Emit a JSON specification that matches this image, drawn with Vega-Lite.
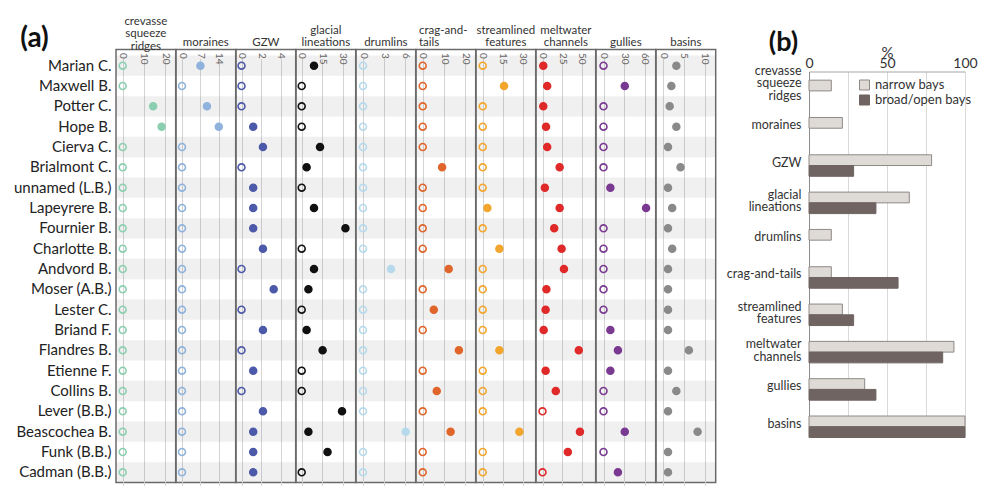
{
  "$schema": "https://vega.github.io/schema/vega-lite/v6.json",
  "padding": {"left": 12, "top": 14.5, "right": 6, "bottom": 2},
  "spacing": 9,
  "config": {
    "font": "Lato",
    "view": {"stroke": "#6b6b6b", "strokeWidth": 1.5},
    "title": {"fontSize": 11.5, "fontWeight": "normal", "color": "#333", "lineHeight": 12.5, "offset": 1, "anchor": "middle", "baseline": "bottom", "font": "Lato"},
    "axisTop": {"offset": -3, "ticks": false, "tickSize": 0, "domain": false, "labelAngle": 90, "labelAlign": "left", "labelBaseline": "middle", "labelPadding": 0, "labelFontSize": 10, "labelColor": "#666", "labelFlush": false, "labelOverlap": false, "grid": true, "gridColor": "#d4d4d4"}
  },
  "resolve": {"scale": {"fill": "independent", "stroke": "independent"}, "legend": {"fill": "independent", "stroke": "independent"}},
  "hconcat": [
    {
      "data": {"values": [
        {"bay":"Marian C.","crevasse_squeeze_ridges":0,"moraines":7,"GZW":0,"glacial_lineations":9,"drumlins":0,"crag_and_tails":0,"streamlined_features":0,"meltwater_channels":1,"gullies":0,"basins":3.2},
        {"bay":"Maxwell B.","crevasse_squeeze_ridges":0,"moraines":0,"GZW":0,"glacial_lineations":0,"drumlins":0,"crag_and_tails":0,"streamlined_features":16,"meltwater_channels":6,"gullies":31,"basins":2},
        {"bay":"Potter C.","crevasse_squeeze_ridges":14.4,"moraines":9.5,"GZW":0,"glacial_lineations":0,"drumlins":0,"crag_and_tails":0,"streamlined_features":0,"meltwater_channels":1,"gullies":0,"basins":1.6},
        {"bay":"Hope B.","crevasse_squeeze_ridges":18.4,"moraines":14,"GZW":1.2,"glacial_lineations":0,"drumlins":0,"crag_and_tails":0,"streamlined_features":0,"meltwater_channels":4.5,"gullies":0,"basins":3.2},
        {"bay":"Cierva C.","crevasse_squeeze_ridges":0,"moraines":0,"GZW":2.2,"glacial_lineations":13.4,"drumlins":0,"crag_and_tails":0,"streamlined_features":0,"meltwater_channels":6,"gullies":0,"basins":1.2},
        {"bay":"Brialmont C.","crevasse_squeeze_ridges":0,"moraines":0,"GZW":0,"glacial_lineations":3.6,"drumlins":0,"crag_and_tails":9.1,"streamlined_features":0,"meltwater_channels":22,"gullies":0,"basins":4.2},
        {"bay":"unnamed (L.B.)","crevasse_squeeze_ridges":0,"moraines":0,"GZW":1.2,"glacial_lineations":0,"drumlins":0,"crag_and_tails":0,"streamlined_features":0,"meltwater_channels":3,"gullies":10,"basins":1.2},
        {"bay":"Lapeyrere B.","crevasse_squeeze_ridges":0,"moraines":0,"GZW":1.2,"glacial_lineations":9,"drumlins":0,"crag_and_tails":0,"streamlined_features":3.5,"meltwater_channels":22,"gullies":62,"basins":2.2},
        {"bay":"Fournier B.","crevasse_squeeze_ridges":0,"moraines":0,"GZW":1.2,"glacial_lineations":32,"drumlins":0,"crag_and_tails":0,"streamlined_features":0,"meltwater_channels":15,"gullies":0,"basins":1.2},
        {"bay":"Charlotte B.","crevasse_squeeze_ridges":0,"moraines":0,"GZW":2.2,"glacial_lineations":0,"drumlins":0,"crag_and_tails":0,"streamlined_features":12.5,"meltwater_channels":24.5,"gullies":0,"basins":2.2},
        {"bay":"Andvord B.","crevasse_squeeze_ridges":0,"moraines":0,"GZW":0,"glacial_lineations":9,"drumlins":4,"crag_and_tails":12.2,"streamlined_features":0,"meltwater_channels":27.5,"gullies":0,"basins":1.2},
        {"bay":"Moser (A.B.)","crevasse_squeeze_ridges":0,"moraines":0,"GZW":3.3,"glacial_lineations":4.9,"drumlins":0,"crag_and_tails":0,"streamlined_features":0,"meltwater_channels":5,"gullies":0,"basins":1.2},
        {"bay":"Lester C.","crevasse_squeeze_ridges":0,"moraines":0,"GZW":0,"glacial_lineations":0,"drumlins":0,"crag_and_tails":5.2,"streamlined_features":0,"meltwater_channels":4,"gullies":0,"basins":1.2},
        {"bay":"Briand F.","crevasse_squeeze_ridges":0,"moraines":0,"GZW":2.2,"glacial_lineations":3.6,"drumlins":0,"crag_and_tails":0,"streamlined_features":0,"meltwater_channels":1.5,"gullies":10,"basins":1.2},
        {"bay":"Flandres B.","crevasse_squeeze_ridges":0,"moraines":0,"GZW":0,"glacial_lineations":15.3,"drumlins":0,"crag_and_tails":17,"streamlined_features":12.5,"meltwater_channels":46.5,"gullies":21,"basins":6.2},
        {"bay":"Etienne F.","crevasse_squeeze_ridges":0,"moraines":0,"GZW":1.2,"glacial_lineations":0,"drumlins":0,"crag_and_tails":0,"streamlined_features":0,"meltwater_channels":4,"gullies":10,"basins":1.2},
        {"bay":"Collins B.","crevasse_squeeze_ridges":0,"moraines":0,"GZW":0,"glacial_lineations":0,"drumlins":0,"crag_and_tails":6.6,"streamlined_features":0,"meltwater_channels":17,"gullies":0,"basins":3.2},
        {"bay":"Lever (B.B.)","crevasse_squeeze_ridges":0,"moraines":0,"GZW":2.2,"glacial_lineations":29.5,"drumlins":0,"crag_and_tails":0,"streamlined_features":0,"meltwater_channels":0,"gullies":0,"basins":1.2},
        {"bay":"Beascochea B.","crevasse_squeeze_ridges":0,"moraines":0,"GZW":1.2,"glacial_lineations":4.9,"drumlins":6.1,"crag_and_tails":13.1,"streamlined_features":27.5,"meltwater_channels":48,"gullies":31,"basins":8.3},
        {"bay":"Funk (B.B.)","crevasse_squeeze_ridges":0,"moraines":0,"GZW":1.2,"glacial_lineations":18.9,"drumlins":0,"crag_and_tails":0,"streamlined_features":0,"meltwater_channels":32.5,"gullies":0,"basins":1.2},
        {"bay":"Cadman (B.B.)","crevasse_squeeze_ridges":0,"moraines":0,"GZW":1.2,"glacial_lineations":0,"drumlins":0,"crag_and_tails":0,"streamlined_features":0,"meltwater_channels":0,"gullies":21,"basins":1.2}
      ]},
      "transform": [{"window": [{"op": "row_number", "as": "rn"}]}],
      "bounds": "flush",
      "spacing": 0,
      "resolve": {"scale": {"x": "independent", "y": "independent"}},
      "hconcat": [
        {
          "width": 59.7, "height": 433,
          "title": {"text": ["crevasse", "squeeze", "ridges"], "offset": -28},
          "encoding": {"y": {"field": "bay", "type": "nominal", "sort": null, "scale": {"domain": ["Marian C.","Maxwell B.","Potter C.","Hope B.","Cierva C.","Brialmont C.","unnamed (L.B.)","Lapeyrere B.","Fournier B.","Charlotte B.","Andvord B.","Moser (A.B.)","Lester C.","Briand F.","Flandres B.","Etienne F.","Collins B.","Lever (B.B.)","Beascochea B.","Funk (B.B.)","Cadman (B.B.)"], "range": [6, 433], "paddingInner": 0, "paddingOuter": 0},
            "axis": {"title": "(a)", "titleAngle": 0, "titleX": -82, "titleY": -11.5, "titleFontSize": 28, "titleFontWeight": "bold", "titleAlign": "center", "titleBaseline": "middle", "titleColor": "#111", "labelFontSize": 15, "labelPadding": 5, "labelColor": "#222", "domain": false, "ticks": false, "labelLimit": 0}}},
          "layer": [
            {"mark": {"type": "rect", "x": 0, "x2": "width", "fill": "#7a6a6a"}, "encoding": {"opacity": {"condition": {"test": "datum.rn % 2 == 1", "value": 0.1}, "value": 0}}},
            {"mark": {"type": "point", "shape": "circle", "size": 48, "strokeWidth": 1.6, "stroke": "#8ccfb0", "opacity": 1},
             "encoding": {"x": {"field": "crevasse_squeeze_ridges", "type": "quantitative", "title": null, "scale": {"domain": [0, 20], "range": [6.7, 49], "nice": false, "zero": false}, "axis": {"orient": "top", "values": [0, 10, 20]}},
               "fill": {"condition": {"test": "datum.crevasse_squeeze_ridges > 0", "value": "#8ccfb0"}, "value": "transparent"}}}
          ]
        },
        {
          "width": 59.7, "height": 433,
          "title": {"text": "moraines"},
          "encoding": {"y": {"field": "bay", "type": "nominal", "sort": null, "scale": {"domain": ["Marian C.","Maxwell B.","Potter C.","Hope B.","Cierva C.","Brialmont C.","unnamed (L.B.)","Lapeyrere B.","Fournier B.","Charlotte B.","Andvord B.","Moser (A.B.)","Lester C.","Briand F.","Flandres B.","Etienne F.","Collins B.","Lever (B.B.)","Beascochea B.","Funk (B.B.)","Cadman (B.B.)"], "range": [6, 433], "paddingInner": 0, "paddingOuter": 0}, "axis": null}},
          "layer": [
            {"mark": {"type": "rect", "x": 0, "x2": "width", "fill": "#7a6a6a"}, "encoding": {"opacity": {"condition": {"test": "datum.rn % 2 == 1", "value": 0.1}, "value": 0}}},
            {"mark": {"type": "point", "shape": "circle", "size": 48, "strokeWidth": 1.6, "stroke": "#8fb3dc", "opacity": 1},
             "encoding": {"x": {"field": "moraines", "type": "quantitative", "title": null, "scale": {"domain": [0, 14], "range": [6, 42.8], "nice": false, "zero": false}, "axis": {"orient": "top", "values": [0, 7, 14]}},
               "fill": {"condition": {"test": "datum.moraines > 0", "value": "#8fb3dc"}, "value": "transparent"}}}
          ]
        },
        {
          "width": 59.7, "height": 433,
          "title": {"text": "GZW"},
          "encoding": {"y": {"field": "bay", "type": "nominal", "sort": null, "scale": {"domain": ["Marian C.","Maxwell B.","Potter C.","Hope B.","Cierva C.","Brialmont C.","unnamed (L.B.)","Lapeyrere B.","Fournier B.","Charlotte B.","Andvord B.","Moser (A.B.)","Lester C.","Briand F.","Flandres B.","Etienne F.","Collins B.","Lever (B.B.)","Beascochea B.","Funk (B.B.)","Cadman (B.B.)"], "range": [6, 433], "paddingInner": 0, "paddingOuter": 0}, "axis": null}},
          "layer": [
            {"mark": {"type": "rect", "x": 0, "x2": "width", "fill": "#7a6a6a"}, "encoding": {"opacity": {"condition": {"test": "datum.rn % 2 == 1", "value": 0.1}, "value": 0}}},
            {"mark": {"type": "point", "shape": "circle", "size": 48, "strokeWidth": 1.6, "stroke": "#4c5aa9", "opacity": 1},
             "encoding": {"x": {"field": "GZW", "type": "quantitative", "title": null, "scale": {"domain": [0, 4], "range": [5.5, 44.5], "nice": false, "zero": false}, "axis": {"orient": "top", "values": [0, 2, 4]}},
               "fill": {"condition": {"test": "datum.GZW > 0", "value": "#4c5aa9"}, "value": "transparent"}}}
          ]
        },
        {
          "width": 59.7, "height": 433,
          "title": {"text": ["glacial", "lineations"]},
          "encoding": {"y": {"field": "bay", "type": "nominal", "sort": null, "scale": {"domain": ["Marian C.","Maxwell B.","Potter C.","Hope B.","Cierva C.","Brialmont C.","unnamed (L.B.)","Lapeyrere B.","Fournier B.","Charlotte B.","Andvord B.","Moser (A.B.)","Lester C.","Briand F.","Flandres B.","Etienne F.","Collins B.","Lever (B.B.)","Beascochea B.","Funk (B.B.)","Cadman (B.B.)"], "range": [6, 433], "paddingInner": 0, "paddingOuter": 0}, "axis": null}},
          "layer": [
            {"mark": {"type": "rect", "x": 0, "x2": "width", "fill": "#7a6a6a"}, "encoding": {"opacity": {"condition": {"test": "datum.rn % 2 == 1", "value": 0.1}, "value": 0}}},
            {"mark": {"type": "point", "shape": "circle", "size": 48, "strokeWidth": 1.6, "stroke": "#111111", "opacity": 1},
             "encoding": {"x": {"field": "glacial_lineations", "type": "quantitative", "title": null, "scale": {"domain": [0, 30], "range": [5.7, 46.7], "nice": false, "zero": false}, "axis": {"orient": "top", "values": [0, 15, 30]}},
               "fill": {"condition": {"test": "datum.glacial_lineations > 0", "value": "#111111"}, "value": "transparent"}}}
          ]
        },
        {
          "width": 59.7, "height": 433,
          "title": {"text": "drumlins"},
          "encoding": {"y": {"field": "bay", "type": "nominal", "sort": null, "scale": {"domain": ["Marian C.","Maxwell B.","Potter C.","Hope B.","Cierva C.","Brialmont C.","unnamed (L.B.)","Lapeyrere B.","Fournier B.","Charlotte B.","Andvord B.","Moser (A.B.)","Lester C.","Briand F.","Flandres B.","Etienne F.","Collins B.","Lever (B.B.)","Beascochea B.","Funk (B.B.)","Cadman (B.B.)"], "range": [6, 433], "paddingInner": 0, "paddingOuter": 0}, "axis": null}},
          "layer": [
            {"mark": {"type": "rect", "x": 0, "x2": "width", "fill": "#7a6a6a"}, "encoding": {"opacity": {"condition": {"test": "datum.rn % 2 == 1", "value": 0.1}, "value": 0}}},
            {"mark": {"type": "point", "shape": "circle", "size": 48, "strokeWidth": 1.6, "stroke": "#b6daec", "opacity": 1},
             "encoding": {"x": {"field": "drumlins", "type": "quantitative", "title": null, "scale": {"domain": [0, 6], "range": [7, 49], "nice": false, "zero": false}, "axis": {"orient": "top", "values": [0, 3, 6]}},
               "fill": {"condition": {"test": "datum.drumlins > 0", "value": "#b6daec"}, "value": "transparent"}}}
          ]
        },
        {
          "width": 59.7, "height": 433,
          "title": {"text": ["crag-and-", "tails"], "anchor": "start", "dx": 3},
          "encoding": {"y": {"field": "bay", "type": "nominal", "sort": null, "scale": {"domain": ["Marian C.","Maxwell B.","Potter C.","Hope B.","Cierva C.","Brialmont C.","unnamed (L.B.)","Lapeyrere B.","Fournier B.","Charlotte B.","Andvord B.","Moser (A.B.)","Lester C.","Briand F.","Flandres B.","Etienne F.","Collins B.","Lever (B.B.)","Beascochea B.","Funk (B.B.)","Cadman (B.B.)"], "range": [6, 433], "paddingInner": 0, "paddingOuter": 0}, "axis": null}},
          "layer": [
            {"mark": {"type": "rect", "x": 0, "x2": "width", "fill": "#7a6a6a"}, "encoding": {"opacity": {"condition": {"test": "datum.rn % 2 == 1", "value": 0.1}, "value": 0}}},
            {"mark": {"type": "point", "shape": "circle", "size": 48, "strokeWidth": 1.6, "stroke": "#e0652b", "opacity": 1},
             "encoding": {"x": {"field": "crag_and_tails", "type": "quantitative", "title": null, "scale": {"domain": [0, 20], "range": [6.7, 49.3], "nice": false, "zero": false}, "axis": {"orient": "top", "values": [0, 10, 20]}},
               "fill": {"condition": {"test": "datum.crag_and_tails > 0", "value": "#e0652b"}, "value": "transparent"}}}
          ]
        },
        {
          "width": 59.7, "height": 433,
          "title": {"text": ["streamlined", "features"]},
          "encoding": {"y": {"field": "bay", "type": "nominal", "sort": null, "scale": {"domain": ["Marian C.","Maxwell B.","Potter C.","Hope B.","Cierva C.","Brialmont C.","unnamed (L.B.)","Lapeyrere B.","Fournier B.","Charlotte B.","Andvord B.","Moser (A.B.)","Lester C.","Briand F.","Flandres B.","Etienne F.","Collins B.","Lever (B.B.)","Beascochea B.","Funk (B.B.)","Cadman (B.B.)"], "range": [6, 433], "paddingInner": 0, "paddingOuter": 0}, "axis": null}},
          "layer": [
            {"mark": {"type": "rect", "x": 0, "x2": "width", "fill": "#7a6a6a"}, "encoding": {"opacity": {"condition": {"test": "datum.rn % 2 == 1", "value": 0.1}, "value": 0}}},
            {"mark": {"type": "point", "shape": "circle", "size": 48, "strokeWidth": 1.6, "stroke": "#f2a62e", "opacity": 1},
             "encoding": {"x": {"field": "streamlined_features", "type": "quantitative", "title": null, "scale": {"domain": [0, 30], "range": [6.7, 46.7], "nice": false, "zero": false}, "axis": {"orient": "top", "values": [0, 15, 30]}},
               "fill": {"condition": {"test": "datum.streamlined_features > 0", "value": "#f2a62e"}, "value": "transparent"}}}
          ]
        },
        {
          "width": 59.7, "height": 433,
          "title": {"text": ["meltwater", "channels"]},
          "encoding": {"y": {"field": "bay", "type": "nominal", "sort": null, "scale": {"domain": ["Marian C.","Maxwell B.","Potter C.","Hope B.","Cierva C.","Brialmont C.","unnamed (L.B.)","Lapeyrere B.","Fournier B.","Charlotte B.","Andvord B.","Moser (A.B.)","Lester C.","Briand F.","Flandres B.","Etienne F.","Collins B.","Lever (B.B.)","Beascochea B.","Funk (B.B.)","Cadman (B.B.)"], "range": [6, 433], "paddingInner": 0, "paddingOuter": 0}, "axis": null}},
          "layer": [
            {"mark": {"type": "rect", "x": 0, "x2": "width", "fill": "#7a6a6a"}, "encoding": {"opacity": {"condition": {"test": "datum.rn % 2 == 1", "value": 0.1}, "value": 0}}},
            {"mark": {"type": "point", "shape": "circle", "size": 48, "strokeWidth": 1.6, "stroke": "#df2a29", "opacity": 1},
             "encoding": {"x": {"field": "meltwater_channels", "type": "quantitative", "title": null, "scale": {"domain": [0, 50], "range": [6.5, 45.5], "nice": false, "zero": false}, "axis": {"orient": "top", "values": [0, 25, 50]}},
               "fill": {"condition": {"test": "datum.meltwater_channels > 0", "value": "#df2a29"}, "value": "transparent"}}}
          ]
        },
        {
          "width": 59.7, "height": 433,
          "title": {"text": "gullies"},
          "encoding": {"y": {"field": "bay", "type": "nominal", "sort": null, "scale": {"domain": ["Marian C.","Maxwell B.","Potter C.","Hope B.","Cierva C.","Brialmont C.","unnamed (L.B.)","Lapeyrere B.","Fournier B.","Charlotte B.","Andvord B.","Moser (A.B.)","Lester C.","Briand F.","Flandres B.","Etienne F.","Collins B.","Lever (B.B.)","Beascochea B.","Funk (B.B.)","Cadman (B.B.)"], "range": [6, 433], "paddingInner": 0, "paddingOuter": 0}, "axis": null}},
          "layer": [
            {"mark": {"type": "rect", "x": 0, "x2": "width", "fill": "#7a6a6a"}, "encoding": {"opacity": {"condition": {"test": "datum.rn % 2 == 1", "value": 0.1}, "value": 0}}},
            {"mark": {"type": "point", "shape": "circle", "size": 48, "strokeWidth": 1.6, "stroke": "#7a3a91", "opacity": 1},
             "encoding": {"x": {"field": "gullies", "type": "quantitative", "title": null, "scale": {"domain": [0, 60], "range": [7.5, 48.7], "nice": false, "zero": false}, "axis": {"orient": "top", "values": [0, 30, 60]}},
               "fill": {"condition": {"test": "datum.gullies > 0", "value": "#7a3a91"}, "value": "transparent"}}}
          ]
        },
        {
          "width": 59.7, "height": 433,
          "title": {"text": "basins"},
          "encoding": {"y": {"field": "bay", "type": "nominal", "sort": null, "scale": {"domain": ["Marian C.","Maxwell B.","Potter C.","Hope B.","Cierva C.","Brialmont C.","unnamed (L.B.)","Lapeyrere B.","Fournier B.","Charlotte B.","Andvord B.","Moser (A.B.)","Lester C.","Briand F.","Flandres B.","Etienne F.","Collins B.","Lever (B.B.)","Beascochea B.","Funk (B.B.)","Cadman (B.B.)"], "range": [6, 433], "paddingInner": 0, "paddingOuter": 0}, "axis": null}},
          "layer": [
            {"mark": {"type": "rect", "x": 0, "x2": "width", "fill": "#7a6a6a"}, "encoding": {"opacity": {"condition": {"test": "datum.rn % 2 == 1", "value": 0.1}, "value": 0}}},
            {"mark": {"type": "point", "shape": "circle", "size": 48, "strokeWidth": 1.6, "stroke": "#8a8a8a", "opacity": 1},
             "encoding": {"x": {"field": "basins", "type": "quantitative", "title": null, "scale": {"domain": [0, 10], "range": [7, 48.7], "nice": false, "zero": false}, "axis": {"orient": "top", "values": [0, 5, 10]}},
               "fill": {"condition": {"test": "datum.basins > 0", "value": "#8a8a8a"}, "value": "transparent"}}}
          ]
        }
      ]
    },
    {
      "width": 156, "height": 388,
      "view": {"stroke": null},
      "data": {"values": [
        {"feature":"crevasse squeeze ridges","bays":"narrow bays","percent":14.3},
        {"feature":"moraines","bays":"narrow bays","percent":21.4},
        {"feature":"GZW","bays":"narrow bays","percent":78.6},
        {"feature":"GZW","bays":"broad/open bays","percent":28.6},
        {"feature":"glacial lineations","bays":"narrow bays","percent":64.3},
        {"feature":"glacial lineations","bays":"broad/open bays","percent":42.9},
        {"feature":"drumlins","bays":"narrow bays","percent":14.3},
        {"feature":"crag-and-tails","bays":"narrow bays","percent":14.3},
        {"feature":"crag-and-tails","bays":"broad/open bays","percent":57.1},
        {"feature":"streamlined features","bays":"narrow bays","percent":21.4},
        {"feature":"streamlined features","bays":"broad/open bays","percent":28.6},
        {"feature":"meltwater channels","bays":"narrow bays","percent":92.9},
        {"feature":"meltwater channels","bays":"broad/open bays","percent":85.7},
        {"feature":"gullies","bays":"narrow bays","percent":35.7},
        {"feature":"gullies","bays":"broad/open bays","percent":42.9},
        {"feature":"basins","bays":"narrow bays","percent":100},
        {"feature":"basins","bays":"broad/open bays","percent":100}
      ]},
      "mark": {"type": "bar", "strokeWidth": 1},
      "encoding": {
        "y": {"field": "feature", "type": "nominal", "sort": null,
          "scale": {"domain": ["crevasse squeeze ridges","moraines","GZW","glacial lineations","drumlins","crag-and-tails","streamlined features","meltwater channels","gullies","basins"], "range": [22, 388], "paddingInner": 0.424, "paddingOuter": 0.116, "align": 1},
          "axis": {"title": "(b)", "titleAngle": 0, "titleX": -26, "titleY": -7, "titleFontSize": 27, "titleFontWeight": "bold", "titleAlign": "center", "titleBaseline": "middle", "titleColor": "#111", "labelExpr": "split(datum.label, ' ')", "labelFontSize": 12.5, "labelLineHeight": 12.5, "labelColor": "#333", "labelPadding": 8, "ticks": false, "domain": true, "domainColor": "#8c8c8c", "labelLimit": 0,
            "labelOffset": {"condition": [{"test": "datum.value == 'crevasse squeeze ridges'", "value": -20}, {"test": "indexof(datum.value, ' ') >= 0", "value": -8}], "value": -3}}},
        "yOffset": {"field": "bays", "type": "nominal", "sort": ["narrow bays", "broad/open bays"], "scale": {"domain": ["narrow bays", "broad/open bays"], "paddingInner": 0, "paddingOuter": 0}},
        "x": {"field": "percent", "type": "quantitative", "scale": {"domain": [0, 100], "nice": false},
          "axis": {"orient": "top", "values": [0, 25, 50, 75, 100], "labelExpr": "datum.value % 50 == 0 ? datum.label : ''", "offset": -22, "ticks": false, "tickSize": 0, "domain": true, "domainColor": "#a6a6a6", "labelAngle": 0, "labelAlign": "center", "labelBaseline": "bottom", "labelPadding": 1, "labelFontSize": 14, "labelColor": "#333", "grid": true, "gridColor": "#d9d9d9", "title": "%", "titleFontSize": 15, "titleFontWeight": "normal", "titleColor": "#333", "titlePadding": -4}},
        "fill": {"field": "bays", "type": "nominal", "scale": {"domain": ["narrow bays", "broad/open bays"], "range": ["#dedad6", "#6f6461"]},
          "legend": {"orient": "none", "legendX": 49, "legendY": 29, "title": null, "labelFontSize": 13, "symbolType": "square", "symbolSize": 100, "symbolStrokeWidth": 1, "rowPadding": 0, "labelColor": "#333"}},
        "stroke": {"field": "bays", "type": "nominal", "scale": {"domain": ["narrow bays", "broad/open bays"], "range": ["#8f8986", "#6f6461"]},
          "legend": {"orient": "none", "legendX": 49, "legendY": 29, "title": null, "labelFontSize": 13, "symbolType": "square", "symbolSize": 100, "symbolStrokeWidth": 1, "rowPadding": 0, "labelColor": "#333"}}
      }
    }
  ]
}
